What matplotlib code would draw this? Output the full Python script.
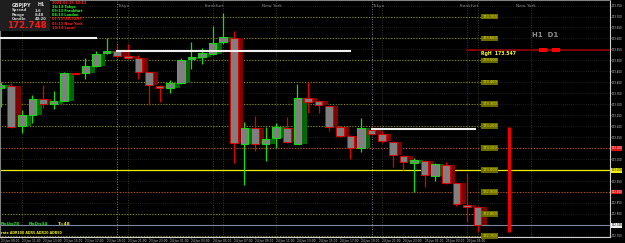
import matplotlib
matplotlib.use("Agg")
import matplotlib.pyplot as plt
import matplotlib.transforms as mtransforms
from matplotlib.patches import Rectangle
import numpy as np

# GBPJPY H1, oldest candle first
opens = [173.373, 173.382, 173.200, 173.250, 173.323, 173.300, 173.314, 173.441, 173.441, 173.473,
         173.532, 173.545, 173.518, 173.509, 173.445, 173.382, 173.373, 173.395, 173.505, 173.514,
         173.527, 173.582, 173.600, 173.118, 173.191, 173.118, 173.145, 173.191, 173.118, 173.327,
         173.314, 173.291, 173.195, 173.155, 173.100, 173.182, 173.164, 173.127, 173.064, 173.032,
         173.041, 172.973, 173.023, 172.941, 172.841, 172.832]
highs = [173.400, 173.395, 173.273, 173.341, 173.386, 173.359, 173.445, 173.441, 173.509, 173.541,
         173.600, 173.573, 173.573, 173.523, 173.445, 173.386, 173.409, 173.509, 173.582, 173.555,
         173.659, 173.714, 173.636, 173.218, 173.245, 173.195, 173.214, 173.241, 173.391, 173.400,
         173.318, 173.291, 173.200, 173.159, 173.236, 173.195, 173.177, 173.132, 173.068, 173.055,
         173.045, 173.032, 173.036, 172.945, 172.986, 172.836]
lows = [173.286, 173.191, 173.168, 173.214, 173.282, 173.277, 173.314, 173.436, 173.414, 173.468,
        173.527, 173.514, 173.505, 173.414, 173.295, 173.309, 173.350, 173.391, 173.459, 173.482,
        173.523, 173.577, 173.032, 172.932, 173.086, 173.041, 173.100, 173.123, 173.118, 173.259,
        173.259, 173.177, 173.150, 173.050, 173.082, 173.159, 173.123, 173.014, 173.000, 172.900,
        172.923, 172.950, 172.936, 172.836, 172.764, 172.718]
closes = [173.386, 173.195, 173.250, 173.323, 173.300, 173.314, 173.441, 173.436, 173.473, 173.527,
          173.545, 173.518, 173.509, 173.445, 173.386, 173.373, 173.395, 173.500, 173.514, 173.532,
          173.577, 173.605, 173.123, 173.191, 173.118, 173.141, 173.195, 173.127, 173.327, 173.309,
          173.295, 173.195, 173.155, 173.100, 173.191, 173.164, 173.132, 173.068, 173.036, 173.045,
          172.977, 173.027, 172.941, 172.845, 172.832, 172.748]

time_labels = ["23 Jun 09:00", "23 Jun 11:00", "23 Jun 13:00", "23 Jun 15:00", "23 Jun 17:00",
               "23 Jun 19:00", "23 Jun 21:00", "23 Jun 23:00", "24 Jun 01:00", "24 Jun 03:00",
               "24 Jun 05:00", "24 Jun 07:00", "24 Jun 09:00", "24 Jun 11:00", "24 Jun 13:00",
               "24 Jun 15:00", "24 Jun 17:00", "24 Jun 19:00", "24 Jun 21:00", "24 Jun 23:00",
               "25 Jun 01:00", "25 Jun 03:00", "25 Jun 05:00"]

# round levels drawn by the indicator
olive_levels = [173.7, 173.6, 173.5, 173.4, 173.3, 173.2, 172.8, 172.7]
orange_levels = [173.1, 172.9]
yellow_level = 173.0

# day open lines: (first candle, last candle, price)
day_opens = [(0, 9, 173.600), (11, 33, 173.545), (35, 44.8, 173.186)]
day_starts = [11, 35]
sessions = [(2, "New York"), (12, "Tokyo"), (20, "Frankfurt"), (21, "London"), (26, "New York"),
            (36, "Tokyo"), (44, "Frankfurt"), (45, "London"), (50, "New York")]
range_high = 173.547
bid = closes[-1]

info_lines = [("2024.06.25 10:13", "#ff2020"), ("16:13 Tokyo", "#20ff20"), ("09:13 Frankfurt", "#20ff20"),
              ("08:13 London", "#20ff20"), ("07:13 UTC/GMT", "#ff2020"), ("03:13 New York", "#ff2020"),
              ("10:13 Local", "#ff2020")]

fig = plt.figure(figsize=(6.25, 2.43), dpi=100)
fig.patch.set_facecolor("black")
ax = fig.add_axes([0.0, 6 / 243, 610 / 625, 236.5 / 243])
ax.set_facecolor("black")
ax.set_xlim(-0.06, 57.5)
ax.set_ylim(172.695, 173.773)

for s in ["top", "left"]:
    ax.spines[s].set_color("#808080")
for s in ["right", "bottom"]:
    ax.spines[s].set_color("#d0d0d0")
for s in ax.spines.values():
    s.set_linewidth(0.8)

# grid
for p in np.arange(172.70, 173.76, 0.05):
    ax.axhline(p, color="#3a3a3a", lw=0.5, ls=(0, (1, 2)), zorder=0)

# session and day lines
for idx, name in sessions:
    ax.axvline(idx, color="#3a3a1c", lw=0.7, ls=(0, (1, 1.5)), zorder=0)
for idx in day_starts:
    ax.axvline(idx, color="#a0a0a0", lw=0.6, ls=(0, (1, 2)), zorder=1)
tr_top = mtransforms.blended_transform_factory(ax.transData, ax.transAxes)
for idx, name in [(12, "Tokyo"), (20.6, "Frankfurt"), (26, "New York"),
                  (36, "Tokyo"), (44.6, "Frankfurt"), (50, "New York")]:
    ax.text(idx - 0.4, 0.985, name, transform=tr_top, color="#8c8c8c", fontsize=3.2,
            ha="center", va="top")

# level lines with boxes
n = len(closes)
for p in olive_levels:
    ax.plot([-1, n - 0.6], [p, p], color="#8c8c00", lw=0.8, ls=(0, (1, 1.5)), zorder=1)
for p in orange_levels:
    ax.axhline(p, color="#c0560c", lw=0.8, ls=(0, (1, 1.5)), zorder=1)
ax.axhline(yellow_level, color="#f0f000", lw=0.9, zorder=1)
for p in olive_levels + orange_levels + [yellow_level]:
    ax.text(n - 0.55, p, "%.3f" % p, color="#e8e800", fontsize=2.6, ha="left", va="center",
            bbox=dict(fc="#6a6a00", ec="none", pad=0.6), zorder=6)

# bid line
ax.axhline(bid, color="#7788a0", lw=0.8, zorder=1)

# day open lines
for a, b, p in day_opens:
    ax.plot([a, b], [p, p], color="#f0f0f0", lw=1.5, zorder=5)

# candles
for i in range(n):
    o, h, l, c = opens[i], highs[i], lows[i], closes[i]
    up = c >= o
    dark = "#006800" if up else "#800000"
    edge = "#10e010" if up else "#e00000"
    lo_b, hi_b = min(o, c), max(o, c)
    ax.add_patch(Rectangle((i - 0.1, lo_b), 0.98, max(hi_b - lo_b, 0.004), fc=dark, ec="none", zorder=2))
    ax.vlines(i, l, h, color=edge, lw=0.9, zorder=3)
    ax.add_patch(Rectangle((i - 0.36, lo_b), 0.72, max(hi_b - lo_b, 0.004), fc="#7f7f7f",
                           ec=edge, lw=0.7, zorder=4))

# daily range bar
day_hi = max(highs[day_starts[-1]:])
day_lo = min(lows[day_starts[-1]:])
ax.vlines(48, day_lo, day_hi, color="#ee0000", lw=2.4, zorder=4)

# range high line
ax.plot([44, 58], [range_high, range_high], color="#8a0000", lw=1.3, zorder=3)
for a in [50.8, 52.0]:
    ax.add_patch(Rectangle((a, range_high - 0.008), 0.75, 0.016, fc="#ff0000", ec="none", zorder=4))
ax.text(51.4, 173.618, "H1  D1", color="#8c8c8c", fontsize=5, fontweight="bold", ha="center", va="center")
ax.text(45.3, 173.532, "RgH  %.3f" % range_high, color="#ffff20", fontsize=3.3, fontweight="bold",
        ha="left", va="center", zorder=6)

# price scale
ax.yaxis.tick_right()
ticks = np.arange(172.70, 173.76, 0.05)
ax.set_yticks(ticks)
ax.set_yticklabels(["%.3f" % t for t in ticks])
ax.tick_params(axis="y", colors="#d0d0d0", labelsize=1.9, length=1.0, width=0.4, pad=0.5)
tr_right = mtransforms.blended_transform_factory(ax.transAxes, ax.transData)
for p, fc, tc in [(173.1, "#e01010", "#ffffff"), (173.0, "#f0f000", "#000000"),
                  (172.9, "#e01010", "#ffffff"), (bid, "#f0f0f0", "#000000")]:
    ax.text(1.002, p, "%.3f" % p, transform=tr_right, color=tc, fontsize=1.9, ha="left",
            va="center", bbox=dict(fc=fc, ec="none", pad=0.3), clip_on=False, zorder=7)

# time scale
ax.set_xticks(np.arange(0, n, 2))
ax.set_xticklabels(time_labels, ha="left")
ax.tick_params(axis="x", colors="#d0d0d0", labelsize=2.1, length=1.0, width=0.4, pad=0.6)

# info box
fig.patches.append(Rectangle((0, 212 / 243), 50 / 625, 31 / 243, transform=fig.transFigure,
                             fc="#1e1e1e", ec="none", zorder=5))
fig.text(12 / 625, 1 - 5 / 243, "GBPJPY", color="#e0e0e0", fontsize=3.4, fontweight="bold", va="center", zorder=6)
fig.text(38 / 625, 1 - 5 / 243, "H1", color="#e0e0e0", fontsize=3.4, fontweight="bold", va="center", zorder=6)
for k, (a, b) in enumerate([("Spread", "1.6"), ("Range", "8.48"), ("Candle", "40:20")]):
    yy = 1 - (10.5 + 4.5 * k) / 243
    fig.text(12 / 625, yy, a, color="#d0d0d0", fontsize=2.7, fontweight="bold", va="center", zorder=6)
    fig.text(35 / 625, yy, b, color="#d0d0d0", fontsize=2.7, fontweight="bold", va="center", zorder=6)
fig.text(7 / 625, 1 - 26 / 243, "%.3f" % bid, color="#ff1818", fontsize=6.2, fontweight="bold",
         va="center", zorder=6)
for k, (t, col) in enumerate(info_lines):
    fig.text(52 / 625, 1 - (3 + 4.1 * k) / 243, t, color=col, fontsize=2.5, fontweight="bold",
             va="center", zorder=6)

# bottom left status
fig.text(1 / 625, 1 - 224 / 243, "RnUp78", color="#20e020", fontsize=3.2, fontweight="bold", va="center")
fig.text(29 / 625, 1 - 224 / 243, "RnDn34", color="#20e020", fontsize=3.2, fontweight="bold", va="center")
fig.text(58 / 625, 1 - 224 / 243, "T=48", color="#f0f000", fontsize=3.2, fontweight="bold", va="center")
fig.text(1 / 625, 1 - 233 / 243, "rate ADR100 ADR5 ADR20 ADR50", color="#f0f000", fontsize=2.3,
         fontweight="bold", va="center")

fig.savefig("out.png", dpi=100, facecolor="black")
